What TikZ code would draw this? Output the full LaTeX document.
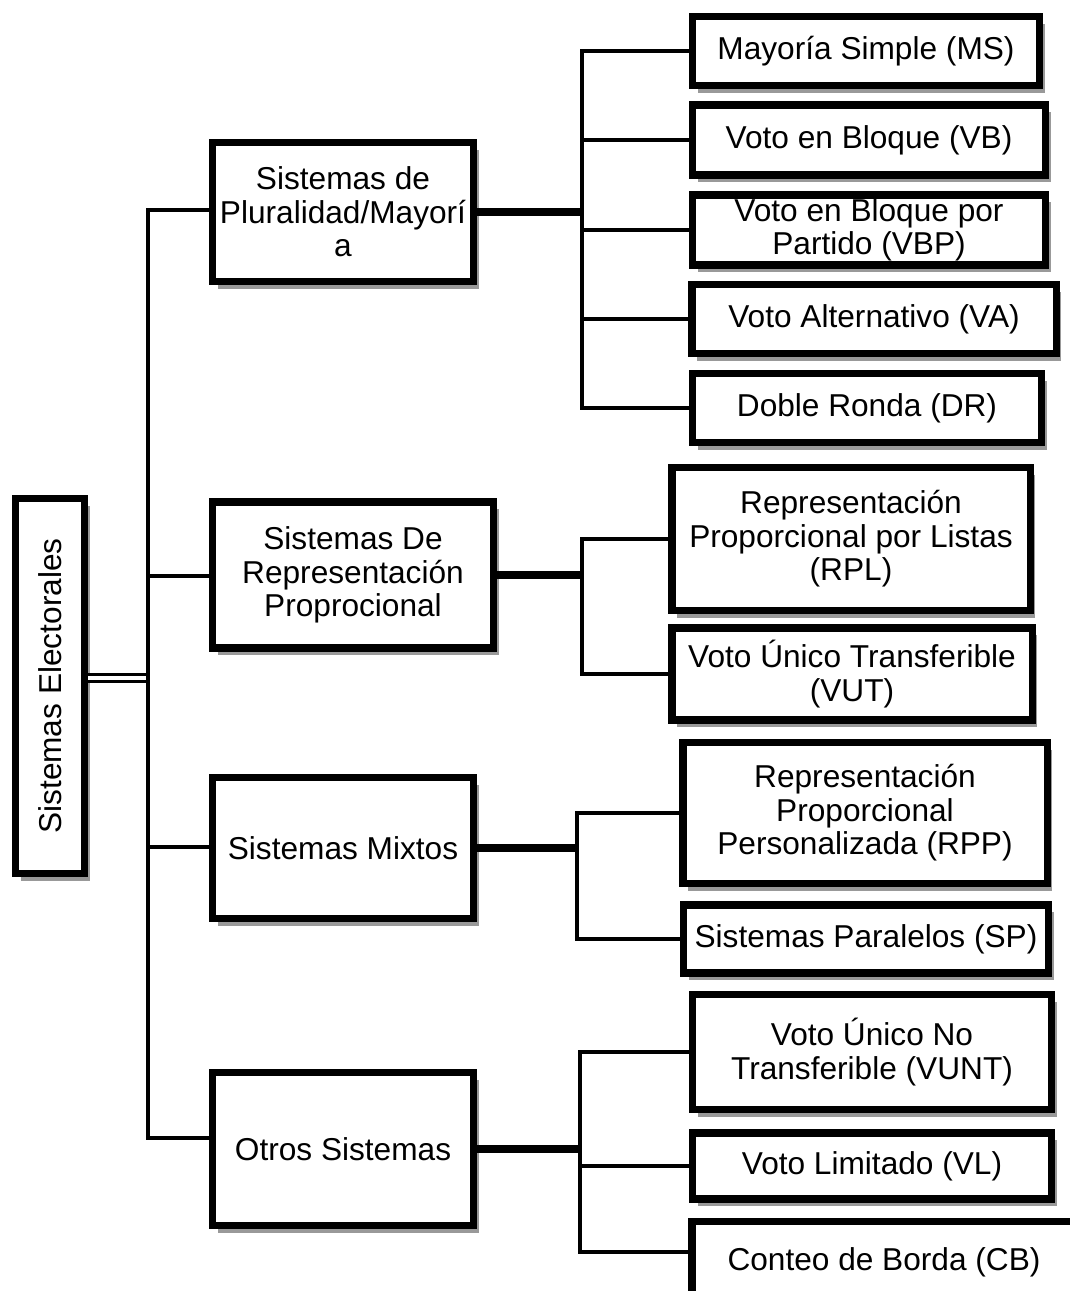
\documentclass[tikz,border=0pt]{standalone}
\usepackage{fontspec}
\setmainfont{Liberation Sans}
\usetikzlibrary{shadows}

\begin{document}
\begin{tikzpicture}[x=0.2mm,y=-0.2mm,
  Size/.style 2 args={minimum width=#1*0.2mm,minimum height=#2*0.2mm}]
  \tikzstyle{BoxStyle}=[draw,line width=4pt,fill=white,inner sep=1pt,align=center,
    font=\fontsize{18}{19}\selectfont,
    drop shadow={shadow xshift=3pt,shadow yshift=-4pt,opacity=0.4,fill=black}]
  \tikzstyle{EdgeStyle}=[line width=2.3pt]
  \tikzstyle{StemStyle}=[line width=4pt]
  \useasboundingbox (0,0) rectangle (1070,1291);
  % root
  \node[BoxStyle,Size={69}{375}] (Root) at (50,686) {\rotatebox{90}{Sistemas Electorales}};
  % families
  \node[BoxStyle,Size={261}{139}] (Plur)  at (343,212)  {Sistemas de\\Pluralidad/Mayorí\\a};
  \node[BoxStyle,Size={281}{146}] (RP)    at (353,575)  {Sistemas De\\Representación\\Proprocional};
  \node[BoxStyle,Size={261}{141}] (Mix)   at (343,848)  {Sistemas Mixtos};
  \node[BoxStyle,Size={261}{153}] (Otros) at (343,1149) {Otros Sistemas};
  % systems
  \node[BoxStyle,Size={347}{69}]  (MS)   at (866,51)    {Mayoría Simple (MS)};
  \node[BoxStyle,Size={353}{70}]  (VB)   at (869,140)   {Voto en Bloque (VB)};
  \node[BoxStyle,Size={353}{70}]  (VBP)  at (869,230)   {Voto en Bloque por\\Partido (VBP)};
  \node[BoxStyle,Size={364}{69}]  (VA)   at (874,319)   {Voto Alternativo (VA)};
  \node[BoxStyle,Size={349}{69}]  (DR)   at (867,408)   {Doble Ronda (DR)};
  \node[BoxStyle,Size={358}{143}] (RPL)  at (851,539)   {Representación\\Proporcional por Listas\\(RPL)};
  \node[BoxStyle,Size={360}{92}]  (VUT)  at (852,674)   {Voto Único Transferible\\(VUT)};
  \node[BoxStyle,Size={364}{141}] (RPP)  at (865,813)   {Representación\\Proporcional\\Personalizada (RPP)};
  \node[BoxStyle,Size={365}{68}]  (SP)   at (866,939)   {Sistemas Paralelos (SP)};
  \node[BoxStyle,Size={359}{115}] (VUNT) at (872,1052)  {Voto Único No\\Transferible (VUNT)};
  \node[BoxStyle,Size={359}{66}]  (VL)   at (872,1166)  {Voto Limitado (VL)};
  \node[BoxStyle,Size={384}{88}]  (CB)   at (884,1265)  {\raisebox{7pt}{Conteo de Borda (CB)}};
  % trunk
  \coordinate (T0) at (148,678);
  \coordinate (T1) at (148,210);
  \coordinate (T2) at (148,576);
  \coordinate (T3) at (148,847);
  \coordinate (T4) at (148,1138);
  \draw[line width=1.8pt,double,double distance=2.5pt] (Root.east |- T0) -- (T0);
  \draw[EdgeStyle] (T1 -| Plur.west) -- (T1) -- (T4) -- (T4 -| Otros.west);
  \draw[EdgeStyle] (T2) -- (T2 -| RP.west);
  \draw[EdgeStyle] (T3) -- (T3 -| Mix.west);
  % buses
  \coordinate (B1) at (582,210);
  \coordinate (B2) at (582,576);
  \coordinate (B3) at (577,849);
  \coordinate (B4) at (580,1148);
  \draw[StemStyle] (Plur.east) -- (Plur.east -| B1);
  \draw[StemStyle] (RP.east) -- (RP.east -| B2);
  \draw[StemStyle] (Mix.east) -- (Mix.east -| B3);
  \draw[StemStyle] (Otros.east) -- (Otros.east -| B4);
  \draw[EdgeStyle] (MS.west) -| (B1) |- (DR.west);
  \foreach \n in {VB,VBP,VA}
    \draw[EdgeStyle] (B1 |- \n.west) -- (\n.west);
  \draw[EdgeStyle] (RPL.west) -| (B2) |- (VUT.west);
  \draw[EdgeStyle] (RPP.west) -| (B3) |- (SP.west);
  \draw[EdgeStyle] (VUNT.west) -| (B4) |- ([yshift=7.4pt]CB.west);
  \draw[EdgeStyle] (B4 |- VL.west) -- (VL.west);
\end{tikzpicture}
\end{document}
